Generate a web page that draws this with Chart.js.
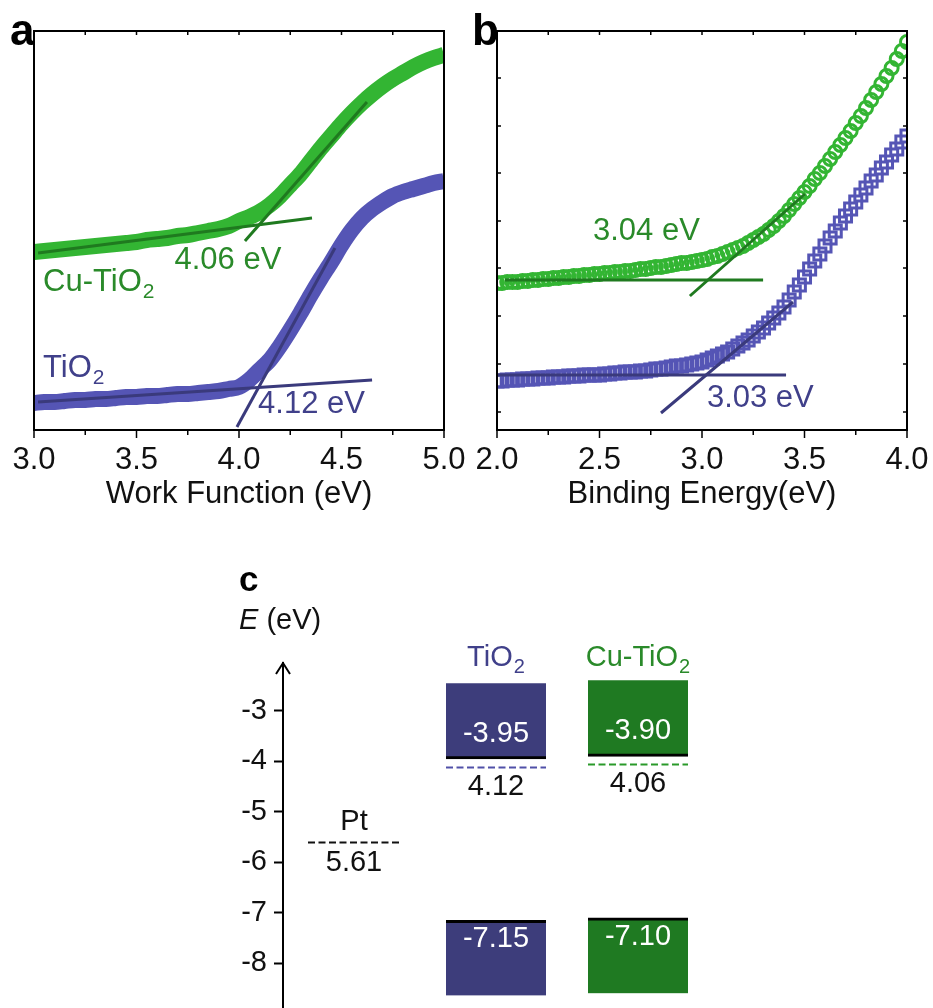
<!DOCTYPE html>
<html>
<head>
<meta charset="utf-8">
<script src="https://cdn.jsdelivr.net/npm/chart.js@4.4.0/dist/chart.umd.min.js"></script>
<style>
  html, body { margin: 0; padding: 0; background: #fff; }
  body { width: 933px; height: 1008px; position: relative; overflow: hidden; }
  canvas { position: absolute; }
  #chartA { left: 0; top: 0; }
  #chartB { left: 466px; top: 0; }
  #chartC { left: 200px; top: 560px; }
</style>
</head>
<body>
<canvas id="chartA" width="470" height="530"></canvas>
<canvas id="chartB" width="467" height="530"></canvas>
<canvas id="chartC" width="540" height="448"></canvas>
<script>
// ---- panel a : work function (intensity in a.u.) ----
var wfEnergy = [3.00,3.05,3.10,3.15,3.20,3.25,3.30,3.35,3.40,3.45,3.50,3.55,3.60,3.65,3.70,3.75,3.80,3.85,3.90,3.95,
                4.00,4.05,4.10,4.15,4.20,4.25,4.30,4.35,4.40,4.45,4.50,4.55,4.60,4.65,4.70,4.75,4.80,4.85,4.90,4.95,5.00];
var wfCuTiO2 = [178,179,180,181,182,183,184,185,186,187,188,190,191,192,194,195,197,199,201,204,
                209,213,218,225,234,245,256,269,282,294,306,317,327,336,344,351,357,363,368,372,375];
var wfTiO2   = [27,28,28,29,30,30,31,31,32,33,33,34,34,35,36,36,37,38,39,41,
                43,50,60,70,84,100,117,135,152,168,185,200,212,221,228,234,238,241,244,247,249];
var wfOnset = [4.06, 4.12];   // Cu-TiO2, TiO2
// tangent lines [x, y] start / end
var wfFitCuFlat  = [[3.02,177],[4.356,212]];
var wfFitCuSteep = [[4.029,189],[4.624,328]];
var wfFitTiFlat  = [[3.02,28],[4.649,50]];
var wfFitTiSteep = [[3.99,3],[4.468,182]];

// ---- panel b : valence band ----
var beEnergy = [2.000,2.025,2.050,2.075,2.100,2.125,2.150,2.175,2.200,2.225,2.250,2.275,2.300,2.325,2.350,2.375,2.400,2.425,2.450,2.475,
                2.500,2.525,2.550,2.575,2.600,2.625,2.650,2.675,2.700,2.725,2.750,2.775,2.800,2.825,2.850,2.875,2.900,2.925,2.950,2.975,
                3.000,3.025,3.050,3.075,3.100,3.125,3.150,3.175,3.200,3.225,3.250,3.275,3.300,3.325,3.350,3.375,3.400,3.425,3.450,3.475,
                3.500,3.525,3.550,3.575,3.600,3.625,3.650,3.675,3.700,3.725,3.750,3.775,3.800,3.825,3.850,3.875,3.900,3.925,3.950,3.975,4.000];
var beCuTiO2 = [147,147,148,148,148,149,149,150,150,151,151,152,152,153,153,154,154,155,155,156,
                156,157,157,158,158,159,159,160,161,161,162,163,163,164,165,166,167,167,168,169,
                170,171,173,174,176,178,180,182,184,187,190,193,196,200,204,209,214,220,226,232,
                238,244,251,257,264,271,278,285,292,299,307,314,322,330,338,346,354,362,371,379,388];
var beTiO2   = [49,49,50,50,50,51,51,51,52,52,52,53,53,53,54,54,54,55,55,55,
                55,56,56,57,57,58,58,58,59,59,60,61,61,62,63,64,64,65,66,67,
                68,70,72,74,76,78,81,84,87,90,94,98,102,107,112,117,123,130,138,145,
                153,161,169,176,184,192,199,207,214,221,228,235,242,249,255,262,268,275,281,288,294];
var vbOnset = [3.04, 3.03];
var beFitCuFlat  = [[2.039,150],[3.298,150]];
var beFitCuSteep = [[2.941,134],[3.502,236]];
var beFitTiFlat  = [[2.005,55],[3.41,55]];
var beFitTiSteep = [[2.80,17],[3.444,128]];
var beYTicks = [18,66,114,162,209,257,304,352];

// ---- panel c : band diagram (eV) ----
var bandNames  = ['Pt', 'TiO2', 'Cu-TiO2'];
var fermiLevel = [-5.61, -4.12, -4.06];
var cbEdge     = [null, -3.95, -3.90];
var vbEdge     = [null, -7.15, -7.10];
var cbTop      = [null, -2.45, -2.39];
var vbBottom   = [null, -8.64, -8.60];

var FONT = '"Liberation Sans", Arial, Helvetica, sans-serif';
var GREEN = '#33b533', GREEN_FIT = '#1f7a1f', GREEN_TXT = '#2a8a2a';
var NAVY = '#5555b5', NAVY_FIT = '#3a3a7c', NAVY_TXT = '#40408a';
Chart.defaults.font.family = FONT;
Chart.defaults.color = '#111';

function pts(xs, ys) { return xs.map(function(x, i){ return {x: x, y: ys[i]}; }); }
function seg(p) { return p.map(function(q){ return {x: q[0], y: q[1]}; }); }

// text with an optional subscript part
function labelText(ctx, main, sub, x, y, size, color, align) {
  ctx.font = size + 'px ' + FONT;
  var w1 = ctx.measureText(main).width, w2 = 0, ss = Math.round(size * 0.68);
  if (sub) { ctx.font = ss + 'px ' + FONT; w2 = ctx.measureText(sub).width + 1; }
  var x0 = x;
  if (align === 'center') x0 = x - (w1 + w2) / 2;
  if (align === 'right') x0 = x - w1 - w2;
  ctx.fillStyle = color; ctx.textAlign = 'left'; ctx.textBaseline = 'middle';
  ctx.font = size + 'px ' + FONT;
  ctx.fillText(main, x0, y);
  if (sub) { ctx.font = ss + 'px ' + FONT; ctx.fillText(sub, x0 + w1 + 1, y + size * 0.34); }
}
function chem(name) { return name.slice(-1) === '2' ? [name.slice(0, -1), '2'] : [name, null]; }

function line(ctx, x1, y1, x2, y2) { ctx.beginPath(); ctx.moveTo(x1, y1); ctx.lineTo(x2, y2); ctx.stroke(); }

var axisBox = {
  id: 'axisBox',
  afterDatasetsDraw: function(chart, args, opts) {
    var ctx = chart.ctx, a = chart.chartArea, x = chart.scales.x, y = chart.scales.y;
    ctx.save();
    ctx.strokeStyle = '#000'; ctx.lineWidth = 1.5;
    x.ticks.forEach(function(t) {
      var px = x.getPixelForValue(t.value);
      line(ctx, px, a.bottom, px, a.bottom + (t.label !== '' ? 8 : 5));
      line(ctx, px, a.top, px, a.top + 4);
    });
    (opts.yTicks || []).forEach(function(v) {
      var py = y.getPixelForValue(v);
      line(ctx, a.left, py, a.left + 4, py);
      line(ctx, a.right, py, a.right - 4, py);
    });
    ctx.lineWidth = 2;
    ctx.strokeRect(a.left, a.top, a.right - a.left, a.bottom - a.top);
    (opts.notes || []).forEach(function(n) {
      var t = n.chem ? chem(n.text) : [n.text, null];
      labelText(ctx, t[0], t[1], x.getPixelForValue(n.x), y.getPixelForValue(n.y), 31, n.color, n.align);
    });
    ctx.font = 'bold 44px ' + FONT; ctx.fillStyle = '#000';
    ctx.textAlign = 'left'; ctx.textBaseline = 'alphabetic';
    ctx.fillText(opts.letter, opts.letterX, 45);
    ctx.restore();
  }
};

function spectrum(id, cfg) {
  return new Chart(document.getElementById(id), {
    type: 'scatter',
    data: { datasets: cfg.datasets },
    options: {
      responsive: false, animation: false, events: [],
      layout: { padding: cfg.padding },
      plugins: { legend: { display: false }, tooltip: { enabled: false }, axisBox: cfg.box },
      scales: {
        x: {
          min: cfg.min, max: cfg.max,
          grid: { display: false }, border: { display: false },
          ticks: { stepSize: 0.25, autoSkip: false, maxRotation: 0, padding: 4, font: { size: 31 }, color: '#111',
                   callback: function(v) { return Math.abs(v * 2 - Math.round(v * 2)) < 1e-6 ? v.toFixed(1) : ''; } },
          title: { display: true, text: cfg.title, font: { size: 31 }, color: '#111', padding: { top: 0, bottom: 17 } },
          afterFit: function(s) { s.height = 100; s.paddingLeft = 0; s.paddingRight = 0; }
        },
        y: { display: false, min: 0, max: 399 }
      }
    },
    plugins: [axisBox]
  });
}

function fitSet(p, color) {
  return { data: seg(p), showLine: true, borderColor: color, borderWidth: 3, pointRadius: 0, order: 0 };
}
function bandSet(xs, ys, color) {
  return { data: pts(xs, ys), showLine: true, borderColor: color, borderWidth: 16, tension: 0.3,
           borderJoinStyle: 'round', pointRadius: 0, clip: 0, order: 1 };
}
function markSet(xs, ys, color, style, r) {
  return { data: pts(xs, ys), showLine: false, pointStyle: style, pointRadius: r, pointBorderWidth: 3,
           pointBorderColor: color, pointBackgroundColor: 'rgba(255,255,255,0)', clip: 0, order: 1 };
}

spectrum('chartA', {
  min: 3, max: 5, title: 'Work Function (eV)',
  padding: { left: 34, right: 26, top: 31, bottom: 0 },
  datasets: [
    fitSet(wfFitCuFlat, GREEN_FIT), fitSet(wfFitCuSteep, GREEN_FIT),
    fitSet(wfFitTiFlat, NAVY_FIT), fitSet(wfFitTiSteep, NAVY_FIT),
    bandSet(wfEnergy, wfCuTiO2, GREEN), bandSet(wfEnergy, wfTiO2, NAVY)
  ],
  box: {
    letter: 'a', letterX: 10,
    notes: [
      { text: wfOnset[0].toFixed(2) + ' eV', x: 3.946, y: 170, color: GREEN_TXT, align: 'center' },
      { text: 'Cu-TiO2', chem: true, x: 3.044, y: 148, color: GREEN_TXT, align: 'left' },
      { text: 'TiO2', chem: true, x: 3.044, y: 62, color: NAVY_TXT, align: 'left' },
      { text: wfOnset[1].toFixed(2) + ' eV', x: 4.093, y: 26, color: NAVY_TXT, align: 'left' }
    ]
  }
});

spectrum('chartB', {
  min: 2, max: 4, title: 'Binding Energy(eV)',
  padding: { left: 31, right: 26, top: 31, bottom: 0 },
  datasets: [
    fitSet(beFitCuFlat, GREEN_FIT), fitSet(beFitCuSteep, GREEN_FIT),
    fitSet(beFitTiFlat, NAVY_FIT), fitSet(beFitTiSteep, NAVY_FIT),
    markSet(beEnergy, beCuTiO2, GREEN, 'circle', 6.5), markSet(beEnergy, beTiO2, NAVY, 'rect', 8.5)
  ],
  box: {
    letter: 'b', letterX: 6, yTicks: beYTicks,
    notes: [
      { text: vbOnset[0].toFixed(2) + ' eV', x: 2.468, y: 199, color: GREEN_TXT, align: 'left' },
      { text: vbOnset[1].toFixed(2) + ' eV', x: 3.024, y: 32, color: NAVY_TXT, align: 'left' }
    ]
  }
});

// ---- panel c ----
var bandFill   = [null, '#3d3d7b', '#1f7a22'];
var levelColor = ['#111', '#5050a8', '#2a9a2a'];
var headColor  = ['#111', '#40408a', '#2a8a2a'];

var bandDiagram = {
  id: 'bandDiagram',
  afterDatasetsDraw: function(chart) {
    var ctx = chart.ctx, a = chart.chartArea, x = chart.scales.x, y = chart.scales.y;
    ctx.save();
    ctx.strokeStyle = '#000'; ctx.lineWidth = 2;
    ctx.beginPath(); ctx.moveTo(a.left - 7, a.top + 11); ctx.lineTo(a.left, a.top); ctx.lineTo(a.left + 7, a.top + 11); ctx.stroke();

    fermiLevel.forEach(function(v, i) {
      var cx = x.getPixelForValue(i), py = y.getPixelForValue(v), half = i === 0 ? 46 : 50;
      ctx.setLineDash([7, 3.5]); ctx.strokeStyle = levelColor[i]; ctx.lineWidth = 2;
      line(ctx, cx - half, py, cx + half, py);
      ctx.setLineDash([]);
      labelText(ctx, Math.abs(v).toFixed(2), null, cx, py + 20, 29, '#111', 'center');
    });
    labelText(ctx, bandNames[0], null, x.getPixelForValue(0), y.getPixelForValue(fermiLevel[0]) - 21, 29, '#111', 'center');

    cbEdge.forEach(function(v, i) {
      if (v === null) return;
      labelText(ctx, v.toFixed(2), null, x.getPixelForValue(i), y.getPixelForValue(v) - 25, 29, '#fff', 'center');
    });
    vbEdge.forEach(function(v, i) {
      if (v === null) return;
      labelText(ctx, v.toFixed(2), null, x.getPixelForValue(i), y.getPixelForValue(v) + 19, 29, '#fff', 'center');
    });
    bandNames.forEach(function(n, i) {
      if (i === 0) return;
      var t = chem(n);
      labelText(ctx, t[0], t[1], x.getPixelForValue(i), a.top - 5, 29, headColor[i], 'center');
    });

    // axis title and panel letter
    ctx.fillStyle = '#111'; ctx.textBaseline = 'middle'; ctx.textAlign = 'left';
    ctx.font = 'italic 29px ' + FONT;
    ctx.fillText('E', 39, 61);
    var wE = ctx.measureText('E').width;
    ctx.font = '29px ' + FONT;
    ctx.fillText(' (eV)', 39 + wE, 61);
    ctx.font = 'bold 35px ' + FONT; ctx.fillStyle = '#000'; ctx.textBaseline = 'alphabetic';
    ctx.fillText('c', 39, 31);
    ctx.restore();
  }
};

new Chart(document.getElementById('chartC'), {
  type: 'bar',
  data: {
    labels: bandNames,
    datasets: [
      { label: 'CB', data: cbEdge.map(function(v, i){ return v === null ? null : [v, cbTop[i]]; }),
        backgroundColor: bandFill, borderColor: '#000', borderWidth: { top: 0, left: 0, right: 0, bottom: 3 },
        borderSkipped: false, barThickness: 100, grouped: false },
      { label: 'VB', data: vbEdge.map(function(v, i){ return v === null ? null : [vbBottom[i], v]; }),
        backgroundColor: bandFill, borderColor: '#000', borderWidth: { top: 3, left: 0, right: 0, bottom: 0 },
        borderSkipped: false, barThickness: 100, grouped: false }
    ]
  },
  options: {
    responsive: false, animation: false, events: [],
    layout: { padding: { left: 0, top: 103, right: 31, bottom: 0 } },
    plugins: { legend: { display: false }, tooltip: { enabled: false } },
    scales: {
      x: { display: false, offset: true },
      y: {
        min: -8.89, max: -2.05,
        ticks: { stepSize: 1, includeBounds: false, padding: 7, font: { size: 29 }, color: '#111',
                 callback: function(v) { return String(Math.round(v)); } },
        grid: { display: true, drawOnChartArea: false, tickLength: 9, tickWidth: 2, tickColor: '#000' },
        border: { display: true, color: '#000', width: 2 },
        afterFit: function(s) { s.width = 83; s.paddingTop = 0; s.paddingBottom = 0; }
      }
    }
  },
  plugins: [bandDiagram]
});
</script>
</body>
</html>
